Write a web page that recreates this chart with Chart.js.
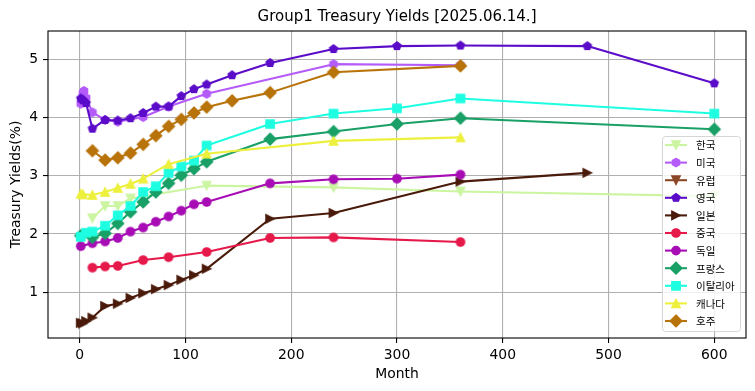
<!DOCTYPE html>
<html>
<head>
<meta charset="utf-8">
<title>Group1 Treasury Yields</title>
<script src="https://cdn.jsdelivr.net/npm/chart.js@4.4.0/dist/chart.umd.min.js"></script>
<style>
  html, body { margin: 0; padding: 0; background: #fff; }
  #wrap { width: 755px; height: 391px; }
</style>
</head>
<body>
<div id="wrap"><canvas id="chart" width="755" height="391"></canvas></div>
<script>
/* global Chart */

// ---- data ----
var xTicks = [0, 100, 200, 300, 400, 500, 600];
var yTicks = [1, 2, 3, 4, 5];

var countries = ['한국', '미국', '유럽', '영국', '일본', '중국', '독일', '프랑스', '이탈리아', '캐나다', '호주'];

var koreaMonths = [12, 24, 36, 48, 120, 240, 360, 600];
var koreaYields = [2.27, 2.48, 2.48, 2.61, 2.83, 2.80, 2.73, 2.65];

var usMonths = [1, 2, 3, 4, 6, 12, 24, 36, 60, 84, 120, 240, 360];
var usYields = [4.24, 4.31, 4.42, 4.46, 4.34, 4.09, 3.96, 3.93, 4.01, 4.19, 4.41, 4.92, 4.90];

var europeMonths = [];
var europeYields = [];

var ukMonths = [1, 3, 6, 12, 24, 36, 48, 60, 72, 84, 96, 108, 120, 144, 180, 240, 300, 360, 480, 600];
var ukYields = [4.33, 4.30, 4.25, 3.81, 3.96, 3.95, 3.99, 4.08, 4.19, 4.19, 4.37, 4.49, 4.57, 4.73, 4.94, 5.18, 5.23, 5.24, 5.23, 4.59];

var japanMonths = [1, 3, 6, 12, 24, 36, 48, 60, 72, 84, 96, 108, 120, 180, 240, 360, 480];
var japanYields = [0.47, 0.46, 0.50, 0.56, 0.76, 0.80, 0.90, 0.98, 1.05, 1.12, 1.21, 1.29, 1.40, 2.26, 2.36, 2.90, 3.05];

var chinaMonths = [12, 24, 36, 60, 84, 120, 180, 240, 360];
var chinaYields = [1.42, 1.44, 1.45, 1.55, 1.60, 1.69, 1.93, 1.94, 1.86];

var germanyMonths = [1, 12, 24, 36, 48, 60, 72, 84, 96, 108, 120, 180, 240, 300, 360];
var germanyYields = [1.79, 1.84, 1.87, 1.93, 2.04, 2.11, 2.21, 2.30, 2.40, 2.51, 2.55, 2.87, 2.94, 2.95, 3.02];

var franceMonths = [1, 12, 24, 36, 48, 60, 72, 84, 96, 108, 120, 180, 240, 300, 360, 600];
var franceYields = [1.97, 1.94, 2.01, 2.18, 2.38, 2.55, 2.72, 2.87, 3.01, 3.12, 3.24, 3.63, 3.76, 3.89, 3.99, 3.80];

var italyMonths = [1, 6, 12, 24, 36, 48, 60, 72, 84, 96, 108, 120, 180, 240, 300, 360, 600];
var italyYields = [1.95, 2.02, 2.04, 2.14, 2.32, 2.48, 2.72, 2.82, 3.05, 3.16, 3.26, 3.52, 3.89, 4.07, 4.16, 4.33, 4.07];

var canadaMonths = [1, 3, 12, 24, 36, 48, 60, 84, 120, 240, 360];
var canadaYields = [2.69, 2.68, 2.67, 2.72, 2.79, 2.86, 2.95, 3.20, 3.38, 3.60, 3.66];

var australiaMonths = [12, 24, 36, 48, 60, 72, 84, 96, 108, 120, 144, 180, 240, 360];
var australiaYields = [3.43, 3.27, 3.31, 3.39, 3.54, 3.69, 3.85, 3.97, 4.08, 4.18, 4.29, 4.43, 4.78, 4.89];

var seriesMonths = [koreaMonths, usMonths, europeMonths, ukMonths, japanMonths, chinaMonths,
    germanyMonths, franceMonths, italyMonths, canadaMonths, australiaMonths];
var seriesYields = [koreaYields, usYields, europeYields, ukYields, japanYields, chinaYields,
    germanyYields, franceYields, italyYields, canadaYields, australiaYields];

// ---- styles ----
var colors = ['#cbf5a0', '#b45bfa', '#8b4726', '#5b0cc9', '#4a1a0a', '#e6194b',
    '#a80db5', '#19a066', '#1effe1', '#edf03c', '#b8730a'];
var markers = ['v', 'h', 'v', 'p', '>', 'o', 'o', 'D', 's', '^', 'D'];

var FONT = "'DejaVu Sans', sans-serif";
var KR_FONT = "'Noto Sans CJK KR', 'Noto Sans', sans-serif";
var MS = 6 * 100 / 72;     // marker size 6pt
var MEW = 100 / 72;        // marker edge 1pt
var LW = 1.5 * 100 / 72;   // line width 1.5pt

function tracePath(ctx, shape, r) {
    var i, a, n, d;
    ctx.beginPath();
    if (shape === 'o') {
        ctx.arc(0, 0, r, 0, Math.PI * 2);
    } else if (shape === 's') {
        ctx.rect(-r, -r, 2 * r, 2 * r);
    } else if (shape === 'D') {
        d = r * Math.SQRT2;
        ctx.moveTo(0, -d); ctx.lineTo(d, 0); ctx.lineTo(0, d); ctx.lineTo(-d, 0);
        ctx.closePath();
    } else if (shape === '^') {
        ctx.moveTo(0, -r); ctx.lineTo(r, r); ctx.lineTo(-r, r); ctx.closePath();
    } else if (shape === 'v') {
        ctx.moveTo(0, r); ctx.lineTo(r, -r); ctx.lineTo(-r, -r); ctx.closePath();
    } else if (shape === '>') {
        ctx.moveTo(r, 0); ctx.lineTo(-r, r); ctx.lineTo(-r, -r); ctx.closePath();
    } else {
        n = shape === 'p' ? 5 : 6;
        for (i = 0; i < n; i++) {
            a = -Math.PI / 2 + i * 2 * Math.PI / n;
            if (i === 0) ctx.moveTo(r * Math.cos(a), r * Math.sin(a));
            else ctx.lineTo(r * Math.cos(a), r * Math.sin(a));
        }
        ctx.closePath();
    }
}

function drawMarker(ctx, shape, x, y, color) {
    ctx.save();
    ctx.translate(x, y);
    tracePath(ctx, shape, MS / 2);
    ctx.fillStyle = color;
    ctx.fill();
    ctx.lineWidth = MEW;
    ctx.lineJoin = 'miter';
    ctx.strokeStyle = color;
    ctx.stroke();
    ctx.restore();
}

function markerImage(shape, color) {
    var c = document.createElement('canvas');
    c.width = 20;
    c.height = 20;
    drawMarker(c.getContext('2d'), shape, 10, 10, color);
    return c;
}

// black box round the axes, like matplotlib spines
var framePlugin = {
    id: 'frame',
    afterDatasetsDraw: function (chart) {
        var a = chart.chartArea, ctx = chart.ctx;
        ctx.save();
        ctx.strokeStyle = '#000';
        ctx.lineWidth = 1.1;
        ctx.strokeRect(a.left, a.top, a.right - a.left, a.bottom - a.top);
        ctx.restore();
    }
};

// legend box in the lower right corner of the plot
var legendPlugin = {
    id: 'cornerLegend',
    afterDraw: function (chart) {
        var ctx = chart.ctx, a = chart.chartArea;
        var rowH = 17.6, boxW = 78, boxH = 195;
        var x0 = a.right - 6 - boxW, y0 = a.bottom - 7 - boxH;
        var i, y;
        ctx.save();
        ctx.beginPath();
        ctx.roundRect(x0 + 0.5, y0 + 0.5, boxW, boxH, 3);
        ctx.fillStyle = 'rgba(255,255,255,0.8)';
        ctx.fill();
        ctx.strokeStyle = '#d6d6d6';
        ctx.lineWidth = 1;
        ctx.stroke();
        ctx.font = '10.5px ' + KR_FONT;
        ctx.textBaseline = 'middle';
        ctx.textAlign = 'left';
        for (i = 0; i < countries.length; i++) {
            y = y0 + 9 + i * rowH;
            ctx.beginPath();
            ctx.moveTo(x0 + 3, y);
            ctx.lineTo(x0 + 25, y);
            ctx.strokeStyle = colors[i];
            ctx.lineWidth = LW;
            ctx.stroke();
            drawMarker(ctx, markers[i], x0 + 14, y, colors[i]);
            ctx.fillStyle = '#000';
            ctx.fillText(countries[i], x0 + 34, y + 0.5);
        }
        ctx.restore();
    }
};

var datasets = countries.map(function (name, i) {
    return {
        label: name,
        data: seriesMonths[i].map(function (m, j) { return { x: m, y: seriesYields[i][j] }; }),
        borderColor: colors[i],
        backgroundColor: colors[i],
        borderWidth: LW,
        borderJoinStyle: 'round',
        pointStyle: markerImage(markers[i], colors[i]),
        pointRadius: 5,
        pointHoverRadius: 5,
        tension: 0,
        fill: false,
        order: -i
    };
});

Chart.defaults.color = '#000';

new Chart(document.getElementById('chart').getContext('2d'), {
    type: 'line',
    data: { datasets: datasets },
    options: {
        responsive: false,
        animation: false,
        layout: { padding: { left: 0, right: 9, top: 0, bottom: 0 } },
        plugins: {
            legend: { display: false },
            tooltip: { enabled: false },
            title: {
                display: true,
                fullSize: false,
                text: 'Group1 Treasury Yields [2025.06.14.]',
                color: '#000',
                font: { family: FONT, size: 15, weight: 'normal' },
                padding: { top: 8, bottom: 5 }
            }
        },
        scales: {
            x: {
                type: 'linear',
                min: -30,
                max: 630,
                afterBuildTicks: function (s) { s.ticks = xTicks.map(function (v) { return { value: v }; }); },
                afterFit: function (s) { s.height = 53; },
                ticks: { font: { family: FONT, size: 13.9 }, color: '#000', padding: 4, maxRotation: 0 },
                grid: { color: '#b0b0b0', lineWidth: 1.1, tickColor: '#000', tickLength: 5, tickWidth: 1.1 },
                border: { display: false },
                title: { display: true, text: 'Month', color: '#000', font: { family: FONT, size: 13.9 }, padding: { top: 0, bottom: 8 } }
            },
            y: {
                type: 'linear',
                min: 0.21,
                max: 5.49,
                afterBuildTicks: function (s) { s.ticks = yTicks.map(function (v) { return { value: v }; }); },
                afterFit: function (s) { s.width = 48; },
                ticks: { font: { family: FONT, size: 13.9 }, color: '#000', padding: 5 },
                grid: { color: '#b0b0b0', lineWidth: 1.1, tickColor: '#000', tickLength: 5, tickWidth: 1.1 },
                border: { display: false },
                title: { display: true, text: 'Treasury Yields(%)', color: '#000', font: { family: FONT, size: 13.9 }, padding: { top: 8, bottom: 0 } }
            }
        }
    },
    plugins: [framePlugin, legendPlugin]
});
</script>
</body>
</html>
